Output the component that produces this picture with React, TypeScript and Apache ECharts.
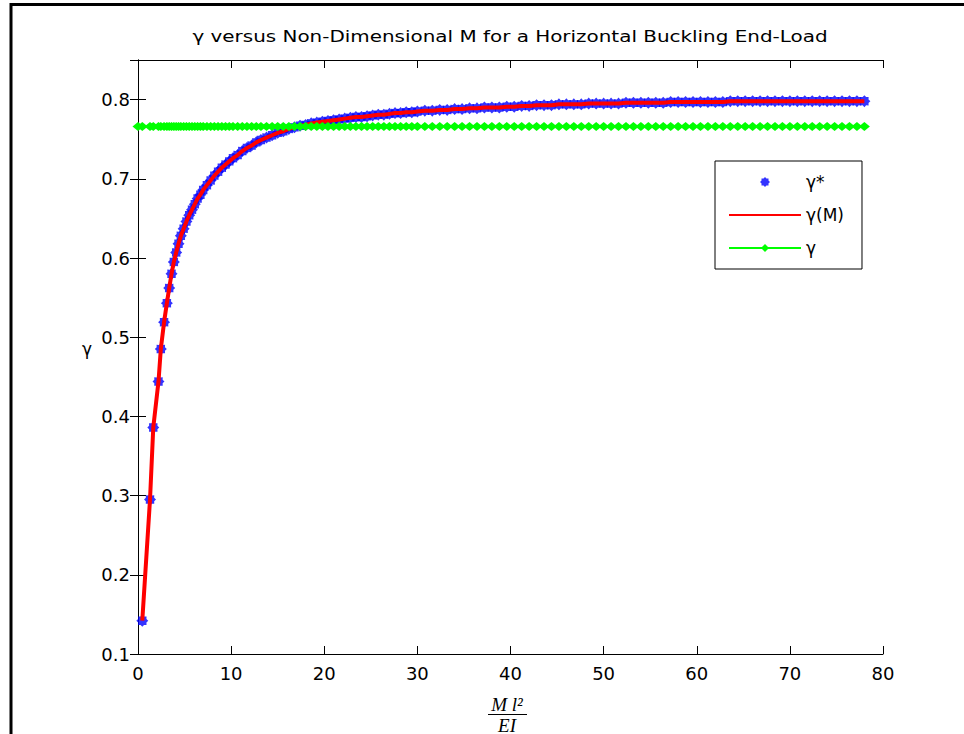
import React, { useEffect, useRef } from 'react';
import * as echarts from 'echarts';

const TITLE = 'γ versus Non-Dimensional M for a Horizontal Buckling End-Load';
const LEGEND_NAMES = ['γ*', 'γ(M)', 'γ'];

// non-dimensional M = M l^2 / EI
const mValues = [
  0.46, 1.29, 1.64, 2.2, 2.45, 2.8, 3.1, 3.35, 3.6, 3.85, 4.1, 4.35, 4.6, 4.9, 5.2, 5.5, 5.8, 6.1, 6.4, 6.7,
  7.0, 7.4, 7.8, 8.2, 8.6, 9.0, 9.4, 9.8, 10.2, 10.7, 11.2, 11.7, 12.2, 12.7, 13.2, 13.8, 14.4, 15.0, 15.6, 16.2,
  16.8, 17.4, 18.0, 18.6, 19.2, 19.8, 20.4, 21.0, 21.6, 22.2, 22.8, 23.4, 24.0, 24.6, 25.2, 25.8, 26.4, 27.0, 27.6, 28.2,
  28.8, 29.4, 30.0, 30.8, 31.6, 32.4, 33.2, 34.0, 34.8, 35.6, 36.4, 37.2, 38.0, 38.8, 39.6, 40.4, 41.2, 42.0, 42.8, 43.6,
  44.4, 45.2, 46.0, 46.8, 47.6, 48.4, 49.2, 50.0, 50.8, 51.6, 52.4, 53.2, 54.0, 54.8, 55.6, 56.4, 57.2, 58.0, 58.8, 59.6,
  60.4, 61.2, 62.0, 62.8, 63.6, 64.4, 65.2, 66.0, 66.8, 67.6, 68.4, 69.2, 70.0, 70.8, 71.6, 72.4, 73.2, 74.0, 74.8, 75.6,
  76.4, 77.2, 78.0,
];

// gamma* (blue stars)
const gammaStar = [
  0.142, 0.295, 0.386, 0.444, 0.485, 0.519, 0.543, 0.562, 0.58, 0.595, 0.607, 0.618, 0.628, 0.637, 0.646, 0.654, 0.661, 0.668, 0.675, 0.68,
  0.686, 0.692, 0.698, 0.704, 0.709, 0.714, 0.718, 0.722, 0.726, 0.73, 0.735, 0.739, 0.742, 0.746, 0.749, 0.752, 0.755, 0.758, 0.76, 0.763,
  0.765, 0.767, 0.768, 0.77, 0.771, 0.772, 0.773, 0.774, 0.775, 0.776, 0.777, 0.778, 0.778, 0.779, 0.78, 0.781, 0.781, 0.782, 0.783, 0.783,
  0.784, 0.784, 0.785, 0.786, 0.786, 0.787, 0.787, 0.788, 0.788, 0.789, 0.789, 0.79, 0.79, 0.79, 0.791, 0.791, 0.792, 0.792, 0.793, 0.793,
  0.793, 0.794, 0.794, 0.794, 0.794, 0.795, 0.795, 0.795, 0.795, 0.795, 0.796, 0.796, 0.796, 0.796, 0.796, 0.796, 0.797, 0.797, 0.797, 0.797,
  0.797, 0.797, 0.797, 0.797, 0.798, 0.798, 0.798, 0.798, 0.798, 0.798, 0.798, 0.798, 0.798, 0.798, 0.798, 0.798, 0.798, 0.798, 0.798, 0.798,
  0.798, 0.798, 0.798,
];

// gamma(M) (red fitted curve) coincides with gamma*
const gammaM = gammaStar;

// constant gamma (green line)
const gammaConstX = [0, ...mValues];
const gammaConst = 0.766;

const X_MIN = 0;
const X_MAX = 80;
const X_STEP = 10;
const Y_MIN = 0.1;
const Y_MAX = 0.85;
const Y_STEP = 0.1;

const STAR =
  'path://M10 0 L6.93 2.87 L7.07 7.07 L2.87 6.93 L0 10 L-2.87 6.93 L-7.07 7.07 L-6.93 2.87 L-10 0 L-6.93 -2.87 L-7.07 -7.07 L-2.87 -6.93 L0 -10 L2.87 -6.93 L7.07 -7.07 L6.93 -2.87 Z';

const FONT = 'DejaVu Sans';

export default function App() {
  const ref = useRef<HTMLDivElement>(null);

  useEffect(() => {
    if (!ref.current) return;
    const chart = echarts.init(ref.current, undefined, { renderer: 'svg' });

    const axisCommon = {
      axisLine: { show: true, lineStyle: { color: '#000', width: 1 } },
      axisTick: { show: true, inside: true, length: 8, lineStyle: { color: '#000', width: 1 } },
      splitLine: { show: false },
    };

    const option: any = {
      animation: false,
      backgroundColor: '#fff',
      grid: { left: 138, right: 81, top: 60, bottom: 80, containLabel: false },
      xAxis: [
        {
          type: 'value',
          min: X_MIN,
          max: X_MAX,
          interval: X_STEP,
          position: 'bottom',
          ...axisCommon,
          axisLabel: { color: '#000', fontFamily: FONT, fontSize: 18, margin: 10 },
        },
        {
          type: 'value',
          min: X_MIN,
          max: X_MAX,
          interval: X_STEP,
          position: 'top',
          ...axisCommon,
          axisLabel: { show: false },
        },
      ],
      yAxis: [
        {
          type: 'value',
          min: Y_MIN,
          max: Y_MAX,
          interval: Y_STEP,
          position: 'left',
          ...axisCommon,
          axisLabel: {
            color: '#000',
            fontFamily: FONT,
            fontSize: 18,
            margin: 8,
            showMaxLabel: false,
            formatter: (v: number) => v.toFixed(1),
          },
          name: 'γ',
          nameLocation: 'middle',
          nameRotate: 0,
          nameGap: 46,
          nameTextStyle: {
            color: '#000',
            fontFamily: FONT,
            fontSize: 17,
            verticalAlign: 'bottom',
            lineHeight: 17,
          },
        },
        {
          type: 'value',
          min: Y_MIN,
          max: Y_MAX,
          interval: Y_STEP,
          position: 'right',
          ...axisCommon,
          axisLabel: { show: false },
        },
      ],
      legend: {
        data: LEGEND_NAMES,
        orient: 'vertical',
        left: 715,
        top: 161,
        itemWidth: 72,
        itemHeight: 10,
        itemGap: 13,
        padding: [11, 18, 11, 13],
        borderColor: '#000',
        borderWidth: 1,
        borderRadius: 0,
        backgroundColor: '#fff',
        z: 10,
        textStyle: { color: '#000', fontFamily: FONT, fontSize: 17, lineHeight: 20 },
      },
      series: [
        {
          name: 'γ*',
          type: 'scatter',
          data: mValues.map((x, i) => [x, gammaStar[i]]),
          symbol: STAR,
          symbolSize: 12,
          symbolKeepAspect: true,
          itemStyle: { color: '#0000ff' },
          clip: false,
          z: 2,
        },
        {
          name: 'γ(M)',
          type: 'line',
          data: mValues.map((x, i) => [x, gammaM[i]]),
          symbol: 'none',
          lineStyle: { color: '#ff0000', width: 4 },
          itemStyle: { color: '#ff0000', opacity: 0 },
          clip: false,
          z: 3,
        },
        {
          name: 'γ',
          type: 'line',
          data: gammaConstX.map((x) => [x, gammaConst]),
          symbol: 'diamond',
          symbolSize: [11, 9],
          showSymbol: true,
          showAllSymbol: true,
          lineStyle: { color: '#00ff00', width: 1 },
          itemStyle: { color: '#00ff00' },
          clip: false,
          z: 4,
        },
      ],
      graphic: [
        // outer frame (left and top)
        { type: 'line', shape: { x1: 11, y1: 3, x2: 11, y2: 734 }, style: { stroke: '#000', lineWidth: 3 } },
        { type: 'line', shape: { x1: 10, y1: 4.5, x2: 964, y2: 4.5 }, style: { stroke: '#000', lineWidth: 3 } },
        // title
        {
          type: 'text',
          x: 510,
          y: 37,
          scaleX: 1.33,
          style: {
            text: TITLE,
            fill: '#000',
            font: `15px "${FONT}"`,
            textAlign: 'center',
            textVerticalAlign: 'middle',
          },
        },
        // x-axis label: M l^2 / EI
        {
          type: 'text',
          x: 507,
          y: 704,
          style: {
            text: 'M l²',
            fill: '#000',
            font: 'italic 19px "Liberation Serif"',
            textAlign: 'center',
            textVerticalAlign: 'middle',
          },
        },
        { type: 'line', shape: { x1: 488, y1: 714.5, x2: 527, y2: 714.5 }, style: { stroke: '#000', lineWidth: 1.2 } },
        {
          type: 'text',
          x: 507,
          y: 725,
          style: {
            text: 'EI',
            fill: '#000',
            font: 'italic 19px "Liberation Serif"',
            textAlign: 'center',
            textVerticalAlign: 'middle',
          },
        },
      ],
    };

    chart.setOption(option);
    return () => chart.dispose();
  }, []);

  return (
    <div
      ref={ref}
      style={{ position: 'fixed', left: 0, top: 0, width: 964, height: 734, background: '#fff' }}
    />
  );
}
